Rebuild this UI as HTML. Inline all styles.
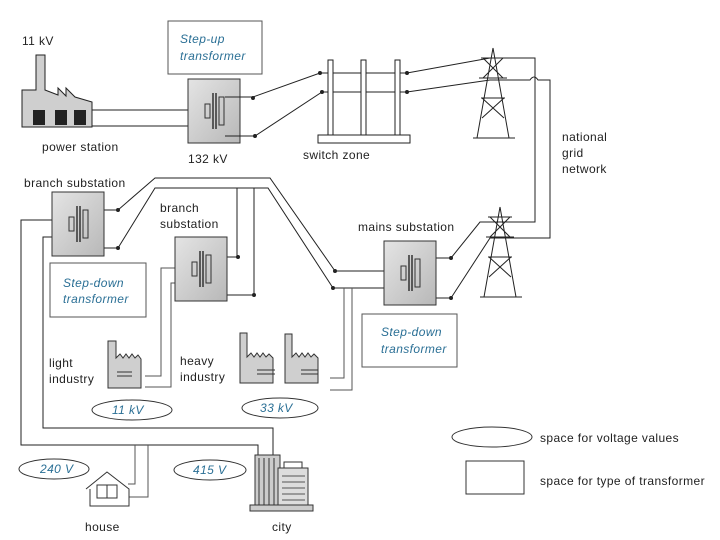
<!DOCTYPE html>
<html><head><style>
body{margin:0;background:#fff}
svg{display:block}
text{font-family:"Liberation Sans",sans-serif;font-size:12px;letter-spacing:0.4px;fill:#222}
.i{font-style:italic;fill:#2a6f95}
</style></head><body>
<svg width="720" height="540" viewBox="0 0 720 540" xmlns="http://www.w3.org/2000/svg">
<defs>
<linearGradient id="g" x1="0" y1="0" x2="1" y2="1"><stop offset="0" stop-color="#e4e4e4"/><stop offset="1" stop-color="#b8b8b8"/></linearGradient>
<g id="tr">
<rect x="0" y="0" width="52" height="64" fill="url(#g)" stroke="#333"/>
<line x1="25" y1="14" x2="25" y2="50" stroke="#333" stroke-width="1.5"/><line x1="28" y1="14" x2="28" y2="50" stroke="#333" stroke-width="1.5"/>
<rect x="17" y="25" width="5" height="14" fill="none" stroke="#333"/>
<rect x="31" y="18" width="5" height="28" fill="none" stroke="#333"/>
</g>
<g id="tw" fill="none" stroke="#222" stroke-width="1">
<path d="M16 0 L0 90 M16 0 L32 90 M-4 90 H38 M4 10 H28 M2 30 H30 M6 10 L26 30 M26 10 L6 30 M5 50 L27 70 M27 50 L5 70 M4 50 H28"/>
</g>
</defs>
<g fill="none" stroke="#222" stroke-width="1">
<path d="M36 55 H45 V90 L58 95 V88 L66 96 V88 L75 97 L92 102 V127 H22 V90 H36 Z" fill="#cfcfcf"/>
<path d="M92 110 H205 V120 M92 126 H205 V122"/>
</g>
<rect x="33" y="110" width="12" height="15" fill="#222"/><rect x="55" y="110" width="12" height="15" fill="#222"/><rect x="74" y="110" width="12" height="15" fill="#222"/>
<text x="22" y="45">11 kV</text>
<text x="42" y="151">power station</text>
<rect x="168" y="21" width="94" height="53" fill="#fff" stroke="#555"/>
<text class="i" x="180" y="43">Step-up</text><text class="i" x="180" y="60">transformer</text>
<use href="#tr" x="188" y="79"/>
<text x="188" y="163">132 kV</text>
<g fill="none" stroke="#222">
<path d="M225 97 H253 L320 73 H407 L490 58 H535 V222 H480 L451 258"/>
<path d="M225 136 H255 L322 92 H407 L490 80 H530 q4 -6 8 0 H550 V238 H490 L451 298"/>
<rect x="318" y="135" width="92" height="8" fill="#fff"/>
<rect x="328" y="60" width="5" height="75" fill="#fff"/><rect x="361" y="60" width="5" height="75" fill="#fff"/><rect x="395" y="60" width="5" height="75" fill="#fff"/>
<path d="M420 258 H451 M420 298 H451"/>
<path d="M335 271 H405 M335 288 H395"/>
<path d="M118 210 L155 178 H270 L335 271"/>
<path d="M118 248 L155 188 H268 L333 288"/>
<path d="M237 188 V257 H220 M254 188 V295 H220"/>
<path d="M344 288 V378 H330 M352 288 V390 H330" stroke="#555"/>
<path d="M92 210 H118 M92 248 H118"/>
<path d="M76 220 H21 V445 H258 V455"/>
<path d="M76 237 H43 V428 H273 V455"/>
<path d="M135 445 V484 H128 M148 445 V497 H128" stroke="#555"/>
<path d="M200 268 H161 V376 H145 M200 283 H171 V387 H145" stroke="#555"/>
</g>
<use href="#tw" x="477" y="48"/>
<use href="#tw" x="484" y="207"/>
<g fill="#222"><circle cx="253" cy="98" r="2"/><circle cx="255" cy="136" r="2"/><circle cx="320" cy="73" r="2"/><circle cx="322" cy="92" r="2"/><circle cx="407" cy="73" r="2"/><circle cx="407" cy="92" r="2"/><circle cx="451" cy="258" r="2"/><circle cx="451" cy="298" r="2"/><circle cx="335" cy="271" r="2"/><circle cx="333" cy="288" r="2"/><circle cx="118" cy="210" r="2"/><circle cx="118" cy="248" r="2"/><circle cx="238" cy="257" r="2"/><circle cx="254" cy="295" r="2"/></g>
<use href="#tr" x="384" y="241"/>
<text x="358" y="231">mains substation</text>
<text x="562" y="141">national</text><text x="562" y="157">grid</text><text x="562" y="173">network</text>
<text x="303" y="159">switch zone</text>
<use href="#tr" x="52" y="192"/>
<text x="24" y="187">branch substation</text>
<rect x="50" y="263" width="96" height="54" fill="#fff" stroke="#555"/>
<text class="i" x="63" y="287">Step-down</text><text class="i" x="63" y="303">transformer</text>
<use href="#tr" x="175" y="237"/>
<text x="160" y="212">branch</text><text x="160" y="228">substation</text>
<rect x="362" y="314" width="95" height="53" fill="#fff" stroke="#555"/>
<text class="i" x="381" y="336">Step-down</text><text class="i" x="381" y="353">transformer</text>
<g stroke="#333" fill="#cfcfcf">
<path d="M108 341 H116 V358 l4 -4 l3 4 l3 -4 l3 4 l3 -4 l3 4 l3 -3 l3 4 V388 H108 Z"/>
<path d="M240 333 H247 V357 l4 -4 l3 4 l3 -4 l3 4 l3 -4 l3 4 l3 -3 l4 4 V383 H240 Z"/>
<path d="M285 334 H292 V357 l4 -4 l3 4 l3 -4 l3 4 l3 -4 l3 4 l3 -3 l4 4 V383 H285 Z"/>
</g>
<g stroke="#333"><path d="M117 372 H132 M117 376 H132 M257 370 H275 M257 374 H275 M301 370 H318 M301 374 H318"/></g>
<text x="49" y="367">light</text><text x="49" y="383">industry</text>
<text x="180" y="365">heavy</text><text x="180" y="381">industry</text>
<g fill="#fff" stroke="#333">
<ellipse cx="132" cy="410" rx="40" ry="10"/><ellipse cx="280" cy="408" rx="38" ry="10"/>
<ellipse cx="54" cy="469" rx="35" ry="10"/><ellipse cx="210" cy="470" rx="36" ry="10"/>
<ellipse cx="492" cy="437" rx="40" ry="10"/>
</g>
<rect x="466" y="461" width="58" height="33" fill="#fff" stroke="#333"/>
<text class="i" x="112" y="414">11 kV</text><text class="i" x="260" y="412">33 kV</text>
<text class="i" x="40" y="473">240 V</text><text class="i" x="193" y="474">415 V</text>
<text x="540" y="442">space for voltage values</text>
<text x="540" y="485">space for type of transformer</text>
<g stroke="#333" fill="#fff">
<path d="M86 489 L107 472 L129 489 V506 H90 V489"/>
<rect x="97" y="485" width="20" height="13"/><line x1="107" y1="485" x2="107" y2="498"/>
</g>
<text x="85" y="531">house</text>
<g stroke="#333">
<rect x="255" y="455" width="25" height="50" fill="#ccc"/>
<path d="M259 458 V505 M264 458 V505 M269 458 V505 M274 458 V505"/>
<rect x="278" y="468" width="30" height="37" fill="#ddd"/>
<rect x="284" y="462" width="18" height="6" fill="#fff"/>
<rect x="250" y="505" width="63" height="6" fill="#ccc"/>
<path d="M282 476 H305 M282 482 H305 M282 488 H305 M282 494 H305 M282 500 H305" stroke="#555"/>
</g>
<text x="272" y="531">city</text>
</svg>
</body></html>
